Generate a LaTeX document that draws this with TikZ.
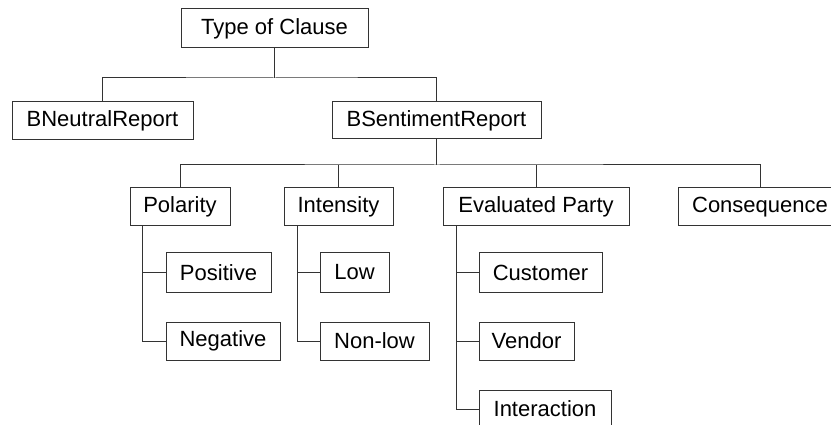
\documentclass[tikz,border=0pt]{standalone}
\usepackage{fontspec}
\setmainfont{Liberation Sans}
\usepackage{tikz}
\usetikzlibrary{positioning,calc}

\begin{document}
\begin{tikzpicture}[
      x=1pt, y=-1pt,
      box/.style={draw, line width=1pt, draw=black!80, minimum height=38pt, inner sep=0pt, font=\fontsize{22}{26}\selectfont},
      link/.style={line width=1pt, draw=black!80}
  ]
    \useasboundingbox (0,0) rectangle (831,425);
    \clip (0,0) rectangle (831,425);
    % top levels
    \node[box, minimum width=187pt, minimum height=39pt] (toc) at (274.5,28.5) {Type of Clause};
    \node[box, minimum width=181pt] (neutral) at (102.5,121) {BNeutralReport};
    \node[box, minimum width=209pt, minimum height=37pt] (sentiment) at (436.5,120.5) {BSentimentReport};
    % sentiment dimensions
    \node[box, minimum width=100pt] (polarity) at (180,207) {Polarity};
    \node[box, minimum width=109pt] (intensity) at (338.5,207) {Intensity};
    \node[box, minimum width=186pt] (evalparty) at (536,207) {Evaluated Party};
    \node[box, minimum width=164pt] (consequence) at (760,207) {Consequence};
    % values
    \node[box, minimum width=105pt, minimum height=39pt] (positive) at (218.5,272.5) {Positive};
    \node[box, minimum width=114pt] (negative) at (223,341) {Negative};
    \node[box, minimum width=69pt, minimum height=39pt] (low) at (354.5,272.5) {Low};
    \node[box, minimum width=109pt] (nonlow) at (374.5,341) {Non-low};
    \node[box, minimum width=123pt, minimum height=39pt] (customer) at (540.5,272.5) {Customer};
    \node[box, minimum width=95pt] (vendor) at (526.5,341) {Vendor};
    \node[box, minimum width=132pt] (interaction) at (545,409) {Interaction};
    % tree connectors
    \coordinate (bus1) at (274.5,78);
    \coordinate (bus2) at (436.5,165);
    \draw[link] (toc) -- (bus1);
    \draw[link] (neutral.north) |- (bus1) -| (sentiment.north);
    \draw[link] (sentiment) -- (bus2);
    \draw[link] (polarity.north) |- (bus2) -| (consequence.north);
    \draw[link] (intensity.north) -- (intensity.north |- bus2);
    \draw[link] (evalparty.north) -- (evalparty.north |- bus2);
    % value spines
    \coordinate (polspine) at ($(polarity.south west)+(13,0)$);
    \coordinate (intspine) at ($(intensity.south west)+(14,0)$);
    \coordinate (evalspine) at ($(evalparty.south west)+(14,0)$);
    \draw[link] (polspine) |- (negative.west);
    \draw[link] (polspine |- positive.west) -- (positive.west);
    \draw[link] (intspine) |- (nonlow.west);
    \draw[link] (intspine |- low.west) -- (low.west);
    \draw[link] (evalspine) |- (interaction.west);
    \draw[link] (evalspine |- customer.west) -- (customer.west);
    \draw[link] (evalspine |- vendor.west) -- (vendor.west);
  \end{tikzpicture}
\end{document}
